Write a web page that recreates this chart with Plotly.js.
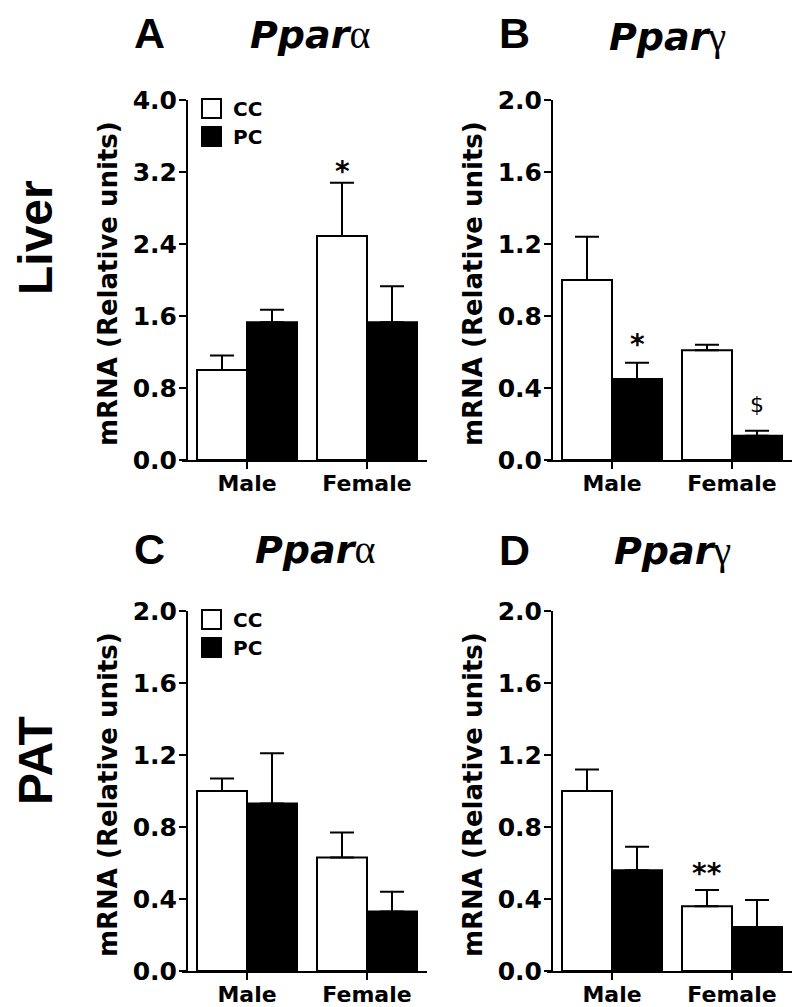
<!DOCTYPE html>
<html>
<head>
<meta charset="utf-8">
<script src="https://cdn.plot.ly/plotly-3.0.1.min.js"></script>
<style>html,body{margin:0;padding:0;background:#fff;}#chart{width:800px;height:1007px;}</style>
</head>
<body>
<div id="chart"></div>
<script>
// ---------- DATA ----------
const categories = ['Male', 'Female'];
const seriesNames = ['CC', 'PC'];

const liverPparaCC = [1.00, 2.49];
const liverPparaCCErr = [0.16, 0.59];
const liverPparaPC = [1.53, 1.53];
const liverPparaPCErr = [0.14, 0.40];

const liverPpargCC = [1.00, 0.61];
const liverPpargCCErr = [0.24, 0.03];
const liverPpargPC = [0.45, 0.135];
const liverPpargPCErr = [0.09, 0.027];

const patPparaCC = [1.00, 0.63];
const patPparaCCErr = [0.07, 0.14];
const patPparaPC = [0.93, 0.33];
const patPparaPCErr = [0.28, 0.11];

const patPpargCC = [1.00, 0.36];
const patPpargCCErr = [0.12, 0.09];
const patPpargPC = [0.56, 0.245];
const patPpargPCErr = [0.13, 0.15];

// significance markers: [text, category index, series index, y-value of marker centre]
const sigA = [['*', 1, 0, 3.28]];
const sigB = [['*', 0, 1, 0.68], ['$', 1, 1, 0.31]];
const sigC = [];
const sigD = [['**', 1, 0, 0.578]];

const yTitle = 'mRNA (Relative units)';
const rowLabels = ['Liver', 'PAT'];

// ---------- LAYOUT HELPERS ----------
const W = 800, H = 1007;
const px = x => x / W;
const py = y => 1 - y / H;
const FONT = 'DejaVu Sans';
const BARGAP = 1 / 6;
const colors = ['#ffffff', '#000000'];

const panels = [
  {letter: 'A', gene: 'α', left: 187, top: 100, bottom: 460, ymax: 4.0, dtick: 0.8,
   cc: liverPparaCC, ccErr: liverPparaCCErr, pc: liverPparaPC, pcErr: liverPparaPCErr, sig: sigA, legend: true,
   letterX: 149, letterY: 33, geneX: 310, geneY: 48},
  {letter: 'B', gene: 'γ', left: 552, top: 100, bottom: 460, ymax: 2.0, dtick: 0.4,
   cc: liverPpargCC, ccErr: liverPpargCCErr, pc: liverPpargPC, pcErr: liverPpargPCErr, sig: sigB, legend: false,
   letterX: 514, letterY: 33, geneX: 667, geneY: 50},
  {letter: 'C', gene: 'α', left: 187, top: 611, bottom: 971, ymax: 2.0, dtick: 0.4,
   cc: patPparaCC, ccErr: patPparaCCErr, pc: patPparaPC, pcErr: patPparaPCErr, sig: sigC, legend: true,
   letterX: 149, letterY: 549, geneX: 315, geneY: 562},
  {letter: 'D', gene: 'γ', left: 552, top: 611, bottom: 971, ymax: 2.0, dtick: 0.4,
   cc: patPpargCC, ccErr: patPpargCCErr, pc: patPpargPC, pcErr: patPpargPCErr, sig: sigD, legend: false,
   letterX: 514, letterY: 550, geneX: 672, geneY: 563}
];

const PLOT_W = 240;      // px width from -0.5 to 1.5
const UNIT = PLOT_W / 2; // px per category
const EXT = 5;           // x axis line extends left of y axis

const traces = [];
const layout = {
  width: W, height: H,
  margin: {l: 0, r: 0, t: 0, b: 0, pad: 0},
  paper_bgcolor: '#fff', plot_bgcolor: 'rgba(0,0,0,0)',
  barmode: 'group', bargap: BARGAP, bargroupgap: 0,
  showlegend: false,
  annotations: [], shapes: []
};

const barHalf = (1 - BARGAP) / 4; // centre offset of each bar within its group

panels.forEach((p, i) => {
  const n = i === 0 ? '' : String(i + 1);
  const xa = 'x' + n, ya = 'y' + n;
  const vals = [[p.cc, p.ccErr], [p.pc, p.pcErr]];
  vals.forEach((v, s) => {
    traces.push({
      type: 'bar', x: categories, y: v[0], name: seriesNames[s],
      xaxis: xa, yaxis: ya,
      marker: {color: colors[s], line: {color: '#000', width: 2}},
      error_y: {type: 'data', symmetric: false, array: v[1], arrayminus: v[1].map(() => 0),
                color: '#000', thickness: 2, width: 12},
      hoverinfo: 'skip'
    });
  });
  layout['xaxis' + n] = {
    domain: [px(p.left - EXT), px(p.left + PLOT_W)],
    range: [-0.5 - EXT / UNIT, 1.5], type: 'category', anchor: ya,
    showline: true, linewidth: 2, linecolor: '#000',
    ticks: 'outside', ticklen: 7, tickwidth: 2, tickcolor: '#000',
    ticklabelstandoff: -4,
    tickfont: {family: FONT, size: 22, weight: 'bold', color: '#000'},
    showgrid: false, zeroline: false, fixedrange: true
  };
  layout['yaxis' + n] = {
    domain: [py(p.bottom), py(p.top)], range: [0, p.ymax],
    anchor: 'free', position: px(p.left),
    tick0: 0, dtick: p.dtick, tickformat: '.1f',
    showline: true, linewidth: 2, linecolor: '#000',
    ticks: 'outside', ticklen: 7, tickwidth: 2, tickcolor: '#000',
    ticklabelstandoff: -3,
    tickfont: {family: FONT, size: 25, weight: 'bold', color: '#000'},
    showgrid: false, zeroline: false, fixedrange: true
  };
  // y-axis title
  layout.annotations.push({
    xref: 'paper', yref: 'paper', x: px(p.left - 79), y: py((p.top + p.bottom) / 2 + 4),
    text: yTitle, textangle: -90, showarrow: false, xanchor: 'center', yanchor: 'middle',
    font: {family: FONT, size: 26, weight: 'bold', color: '#000'}
  });
  // panel letter
  layout.annotations.push({
    xref: 'paper', yref: 'paper', x: px(p.letterX), y: py(p.letterY),
    text: p.letter, showarrow: false, xanchor: 'center', yanchor: 'middle',
    font: {family: 'Liberation Sans', size: 43, weight: 'bold', color: '#000'}
  });
  // gene title
  layout.annotations.push({
    xref: 'paper', yref: 'paper', x: px(p.geneX), y: py(p.geneY - 13),
    text: '<b><i>Ppar</i></b><span style="font-family:\'Liberation Serif\';font-size:40px">' + p.gene + '</span>',
    showarrow: false, xanchor: 'center', yanchor: 'middle',
    font: {family: FONT, size: 38, weight: 'normal', color: '#000'}
  });
  // significance markers
  p.sig.forEach(sg => {
    const isStar = sg[0].indexOf('*') >= 0;
    layout.annotations.push({
      xref: xa, yref: ya, x: sg[1] + (sg[2] === 0 ? -barHalf : barHalf), y: sg[3],
      text: sg[0], showarrow: false, xanchor: 'center', yanchor: 'middle',
      yshift: isStar ? -7 : 0,
      font: {family: FONT, size: isStar ? 28 : 22, weight: isStar ? 'bold' : 'normal', color: '#000'}
    });
  });
  // legend
  if (p.legend) {
    seriesNames.forEach((nm, s) => {
      const t = p.top - 1 + s * 28;
      layout.shapes.push({
        type: 'rect', xref: 'paper', yref: 'paper',
        x0: px(p.left + 15), x1: px(p.left + 34), y0: py(t + 19), y1: py(t),
        fillcolor: colors[s], line: {color: '#000', width: 2}
      });
      layout.annotations.push({
        xref: 'paper', yref: 'paper', x: px(p.left + 44), y: py(t + 10),
        text: nm, showarrow: false, xanchor: 'left', yanchor: 'middle',
        font: {family: FONT, size: 20, weight: 'bold', color: '#000'}
      });
    });
  }
});

// row labels
[[rowLabels[0], 238], [rowLabels[1], 761]].forEach(r => {
  layout.annotations.push({
    xref: 'paper', yref: 'paper', x: px(35), y: py(r[1]),
    text: r[0], textangle: -90, showarrow: false, xanchor: 'center', yanchor: 'middle',
    font: {family: 'Liberation Sans', size: 48, weight: 'bold', color: '#000'}
  });
});

Plotly.newPlot('chart', traces, layout, {staticPlot: true, displayModeBar: false});
</script>
</body>
</html>
